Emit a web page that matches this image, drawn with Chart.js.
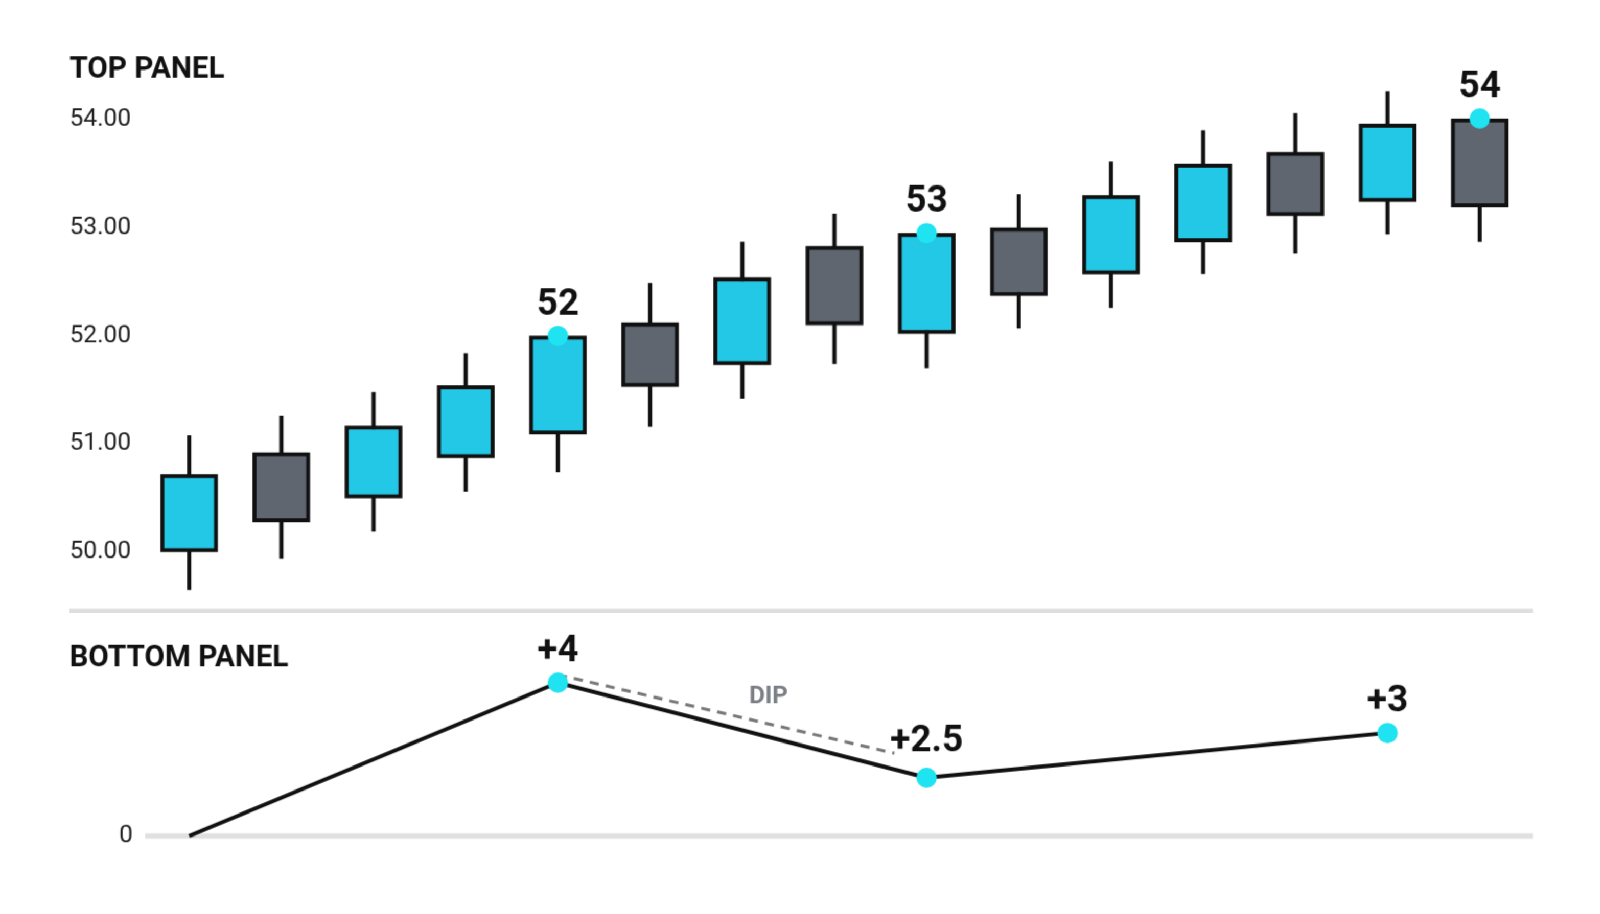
<!DOCTYPE html>
<html><head><meta charset="utf-8">
<script src="https://cdn.jsdelivr.net/npm/chart.js@4"></script>
<style>body{margin:0;background:#fff;width:1600px;height:914px;overflow:hidden;position:relative;font-family:Roboto,sans-serif}
#wrap{position:absolute;left:0;top:0;width:1600px;height:914px;transform:scale(1.022);transform-origin:0 0}
canvas{position:absolute;left:0}</style></head><body>
<div id="wrap">
<canvas id="top" width="1600" height="600" style="top:0"></canvas>
<canvas id="bot" width="1600" height="314" style="top:600px"></canvas>
</div>
<script>
const categories=['1','2','3','4','5','6','7','8','9','10','11','12','13','14','15'];
const opens =[50.00,50.92,50.50,50.87,51.09,52.12,51.73,52.83,52.02,53.00,52.57,52.87,53.70,53.24,54.01];
const closes=[50.72,50.28,51.17,51.54,52.00,51.53,52.54,52.10,52.95,52.37,53.30,53.59,53.11,53.96,53.19];
const highs =[51.08,51.26,51.48,51.84,52.00,52.49,52.87,53.13,52.95,53.31,53.61,53.90,54.06,54.26,54.01];
const lows  =[49.65,49.94,50.19,50.56,50.74,51.16,51.42,51.74,51.70,52.07,52.26,52.57,52.76,52.94,52.87];
const topTicks=[50,51,52,53,54];
const markIdx=[4,8,14], markLabels=['52','53','54'];
const botX=[0,4,8,13], botY=[0,4.0,1.52,2.69];
const botLabels=['','+4','+2.5','+3'];
const dipX=[4,7.65], dipY=[4.21,2.16];
const CY='#22c8e5', GR='#5f6670', DOT='#1fe3f0';

const topPlug={id:'tp',beforeDatasetsDraw(c){const x=c.scales.x,y=c.scales.y,g=c.ctx;g.save();g.strokeStyle='#111';g.lineWidth=4;
 highs.forEach((h,i)=>{const px=x.getPixelForValue(i);g.beginPath();g.moveTo(px,y.getPixelForValue(h));g.lineTo(px,y.getPixelForValue(lows[i]));g.stroke();});
 g.fillStyle='#222';g.font='24px Roboto';g.textAlign='left';g.textBaseline='middle';
 topTicks.forEach(t=>g.fillText(t.toFixed(2),68,y.getPixelForValue(t)));
 g.font='bold 29px Roboto';g.fillStyle='#111';g.textBaseline='alphabetic';g.fillText('TOP PANEL',68,76);
 g.strokeStyle='#dedede';g.lineWidth=5;g.beginPath();g.moveTo(68,598);g.lineTo(1500,598);g.stroke();g.restore();},
 afterDatasetsDraw(c){const x=c.scales.x,y=c.scales.y,g=c.ctx;g.save();
 markIdx.forEach((i,k)=>{const px=x.getPixelForValue(i),py=y.getPixelForValue(Math.max(opens[i],closes[i]));
  g.fillStyle=DOT;g.beginPath();g.arc(px,py,10,0,7);g.fill();
  g.fillStyle='#111';g.font='bold 36px Roboto';g.textAlign='center';g.fillText(markLabels[k],px,py-21);});g.restore();}};
new Chart(document.getElementById('top'),{type:'bar',data:{labels:categories,datasets:[{data:opens.map((o,i)=>[o,closes[i]]),
 backgroundColor:opens.map((o,i)=>closes[i]>=o?CY:GR),borderColor:'#111',borderWidth:4,borderSkipped:false,barThickness:56}]},
 options:{responsive:false,animation:false,layout:{padding:{left:0,right:107,top:80,bottom:10}},plugins:{legend:{display:false},tooltip:{enabled:false}},
 scales:{x:{display:false},y:{min:49.53,max:54.35,ticks:{display:false},grid:{display:false},border:{display:false},afterFit(s){s.width=140;}}}},plugins:[topPlug]});

const botPlug={id:'bp',beforeDatasetsDraw(c){const x=c.scales.x,y=c.scales.y,g=c.ctx;g.save();
 const y0=y.getPixelForValue(0);g.strokeStyle='#e0e0e0';g.lineWidth=5;g.beginPath();g.moveTo(142,y0);g.lineTo(1500,y0);g.stroke();
 g.fillStyle='#222';g.font='24px Roboto';g.textAlign='right';g.textBaseline='middle';g.fillText('0',130,y0);
 g.textAlign='left';g.textBaseline='alphabetic';g.font='bold 29px Roboto';g.fillStyle='#111';g.fillText('BOTTOM PANEL',68,52);
 g.strokeStyle='#777';g.lineWidth=3;g.setLineDash([9,7]);g.beginPath();g.moveTo(x.getPixelForValue(dipX[0]),y.getPixelForValue(dipY[0]));g.lineTo(x.getPixelForValue(dipX[1]),y.getPixelForValue(dipY[1]));g.stroke();g.setLineDash([]);
 g.fillStyle='#7a7f86';g.font='bold 24px Roboto';g.textAlign='center';g.fillText('DIP',752,88);g.restore();},
 afterDatasetsDraw(c){const x=c.scales.x,y=c.scales.y,g=c.ctx;g.save();g.fillStyle='#111';g.font='bold 36px Roboto';g.textAlign='center';
 botX.forEach((v,i)=>{if(!botLabels[i])return;const px=x.getPixelForValue(v),py=y.getPixelForValue(botY[i]);g.fillText(botLabels[i],px,i==2?py-26:py-21);});g.restore();}};
new Chart(document.getElementById('bot'),{type:'line',data:{datasets:[{data:botX.map((v,i)=>({x:v,y:botY[i]})),borderColor:'#111',borderWidth:4,tension:0,
 pointRadius:botX.map((v,i)=>i==0?0:10),pointBackgroundColor:DOT,pointBorderWidth:0}]},
 options:{responsive:false,animation:false,layout:{padding:{left:0,right:107,top:40,bottom:54}},plugins:{legend:{display:false},tooltip:{enabled:false}},
 scales:{x:{type:'linear',min:-0.5,max:14.5,display:false},y:{min:-1.12,max:4.747,ticks:{display:false},grid:{display:false},border:{display:false},afterFit(s){s.width=140;}}}},plugins:[botPlug]});
</script></body></html>
